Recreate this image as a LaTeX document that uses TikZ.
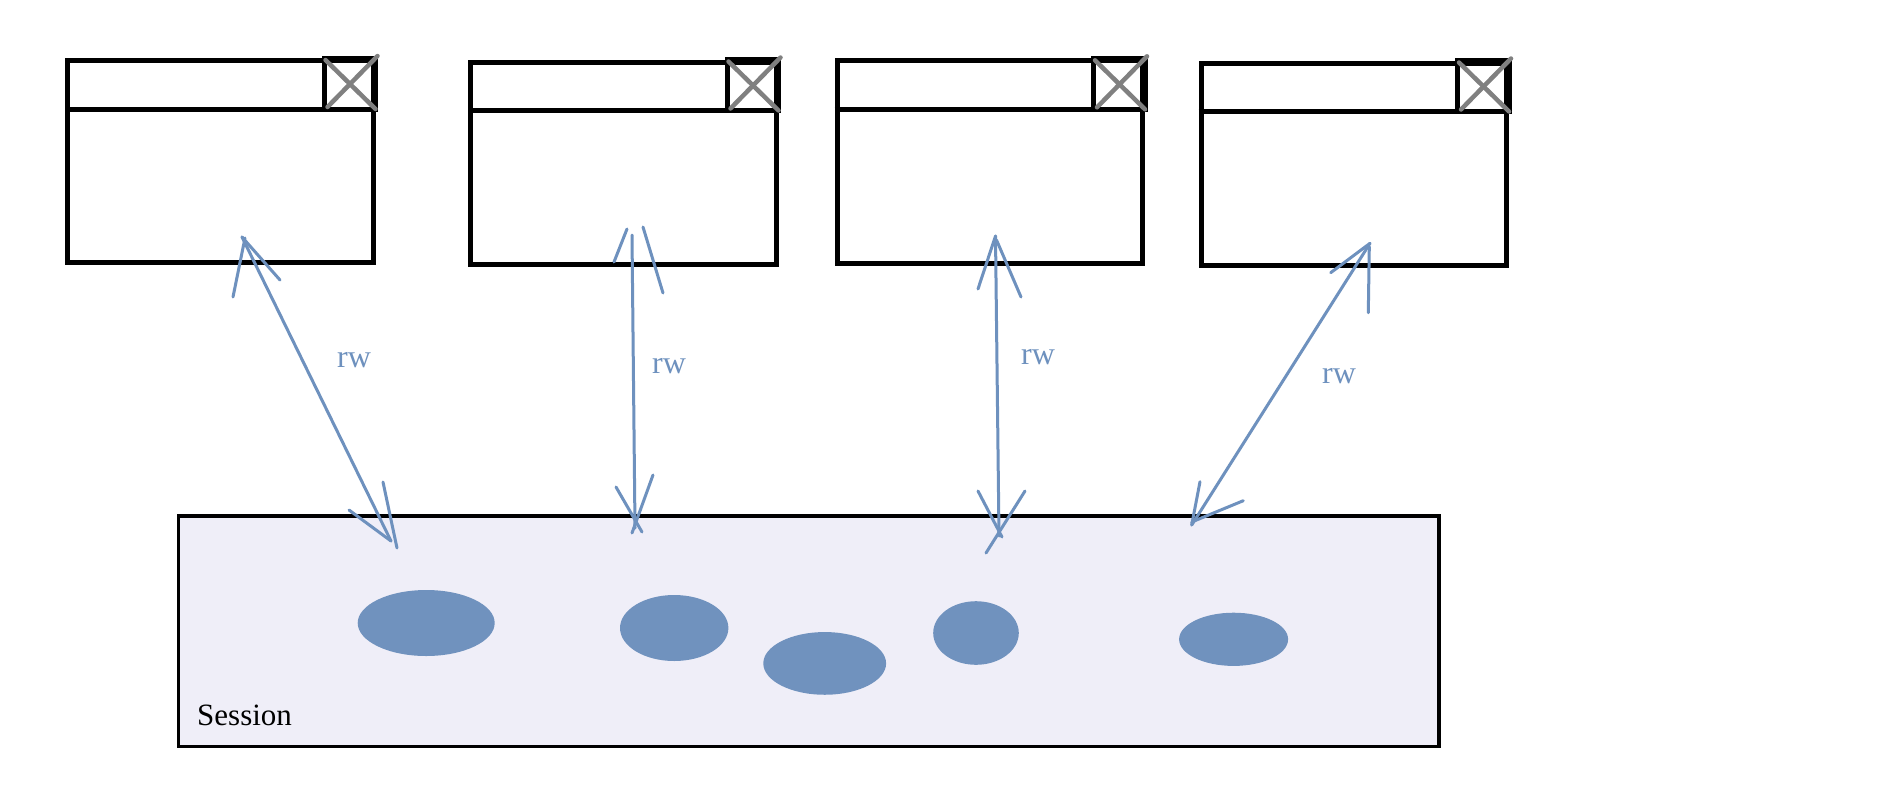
\documentclass[tikz,border=0pt]{standalone}
\usepackage{fontspec}
\setmainfont{Liberation Serif}
\usetikzlibrary{shapes.geometric}

\definecolor{inkblue}{RGB}{110,145,190}
\definecolor{blobblue}{RGB}{112,146,190}
\definecolor{sessionfill}{RGB}{239,238,248}
\definecolor{closegray}{RGB}{128,128,128}

\begin{document}
\begin{tikzpicture}[x=1pt,y=-1pt,
  winbox/.style={draw=black, line width=5pt, fill=white, inner sep=0pt,
    anchor=north west, minimum width=305.5pt, minimum height=202.3pt},
  winline/.style={draw=black, line width=5pt},
  closemark/.style={draw=closegray, line width=4.5pt, line cap=round},
  sessionbox/.style={draw=black, line width=3.6pt, fill=sessionfill,
    inner sep=0pt, anchor=north west},
  blob/.style={ellipse, fill=blobblue, inner sep=0pt},
  ink/.style={draw=inkblue, line width=3pt, line cap=round},
  rwlabel/.style={text=inkblue, font=\fontsize{32}{38}\selectfont,
    anchor=base, inner sep=0pt},
]

% canvas
\fill[white] (0,0) rectangle (1888,804);
\useasboundingbox (0,0) rectangle (1888,804);

% application windows: frame, title bar and close button
\foreach \i/\x/\y in {1/65/58, 2/468/59.5, 3/834.5/58.3, 4/1198.5/60.5} {
  \node[winbox] (w\i) at (\x,\y) {};
  \draw[winline] ([yshift=-51pt]w\i.north west) -- ([yshift=-51pt]w\i.north east);
  \draw[winline] ([xshift=-51.5pt]w\i.north east) rectangle ([yshift=-51pt]w\i.north east);
  \draw[closemark] ([xshift=-50pt,yshift=-2pt]w\i.north east) -- ([yshift=-51pt]w\i.north east);
  \draw[closemark] ([xshift=2pt,yshift=2pt]w\i.north east) -- ([xshift=-48pt,yshift=-49pt]w\i.north east);
}

% shared session store
\node[sessionbox, minimum width=1260.3pt, minimum height=230.5pt] (session) at (176.7,514.3) {};
\node[anchor=base west, inner sep=0pt, font=\fontsize{31}{37}\selectfont] (sessionlabel) at (197,725) {Session};

% objects held in the session
\node[blob, minimum width=137pt,   minimum height=66pt]   (s1) at (426.2,623) {};
\node[blob, minimum width=108.4pt, minimum height=66pt]   (s2) at (674.2,628) {};
\node[blob, minimum width=122.8pt, minimum height=62.7pt] (s3) at (824.7,663.4) {};
\node[blob, minimum width=85.6pt,  minimum height=63.6pt] (s4) at (976,633) {};
\node[blob, minimum width=109pt,   minimum height=53.2pt] (s5) at (1233.6,639.3) {};

% arrow end points
\coordinate (a1t) at (242,237);
\coordinate (a1b) at (391,541);
\coordinate (a2t) at (632,235);
\coordinate (a2b) at (635,528);
\coordinate (a3t) at (995.5,236);
\coordinate (a3b) at (999,536);
\coordinate (a4t) at (1370,243.3);
\coordinate (a4b) at (1191.7,525);

% read/write links, drawn freehand
\draw[ink] (a1t) -- (a1b);
\draw[ink] ([shift={(3,1)}]a1t) -- ++(-12,59);
\draw[ink] (a1t) -- ++(38,43);
\draw[ink] (a1b) -- ++(-42,-31);
\draw[ink] ([shift={(-8,-59)}]a1b) -- ([shift={(6,7)}]a1b);

\draw[ink] (a2t) -- (a2b);
\draw[ink] ([shift={(-5,-6)}]a2t) -- ([shift={(-18,27)}]a2t);
\draw[ink] ([shift={(11,-8)}]a2t) -- ([shift={(31,58)}]a2t);
\draw[ink] ([shift={(-19,-41)}]a2b) -- ([shift={(7,4)}]a2b);
\draw[ink] ([shift={(18,-53)}]a2b) -- ([shift={(-3,5)}]a2b);

\draw[ink] (a3t) -- (a3b);
\draw[ink] (a3t) -- ++(-17.5,53);
\draw[ink] ([shift={(1,4)}]a3t) -- ([shift={(25.5,61)}]a3t);
\draw[ink] ([shift={(-21,-45)}]a3b) -- ([shift={(3,1)}]a3b);
\draw[ink] ([shift={(26,-45)}]a3b) -- ([shift={(-13,17)}]a3b);

\draw[ink] (a4t) -- (a4b);
\draw[ink] (a4t) -- ++(-39.3,29.4);
\draw[ink] ([shift={(-0.7,3.4)}]a4t) -- ([shift={(-1.7,69.4)}]a4t);
\draw[ink] ([shift={(8.3,-43.3)}]a4b) -- (a4b);
\draw[ink] ([shift={(51.6,-24.3)}]a4b) -- ([shift={(0,-3)}]a4b);

% link labels
\node[rwlabel] (rw1) at (354,367) {rw};
\node[rwlabel] (rw2) at (669,373) {rw};
\node[rwlabel] (rw3) at (1038,364) {rw};
\node[rwlabel] (rw4) at (1339,383) {rw};

\end{tikzpicture}
\end{document}
